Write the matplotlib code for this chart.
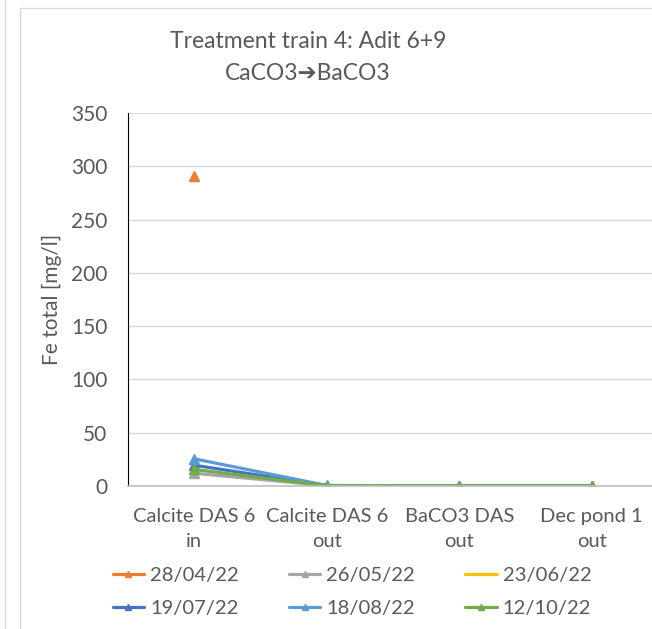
import numpy as np
import matplotlib.pyplot as plt
from matplotlib.lines import Line2D
from matplotlib import font_manager

names = {f.name for f in font_manager.fontManager.ttflist}
main_font = 'Liberation Sans Narrow' if 'Liberation Sans Narrow' in names else 'Lato'
plt.rcParams['font.family'] = [main_font, 'DejaVu Sans']

stations = ["Calcite DAS 6\nin", "Calcite DAS 6\nout", "BaCO3 DAS\nout", "Dec pond 1\nout"]
dates = ["28/04/22", "26/05/22", "23/06/22", "19/07/22", "18/08/22", "12/10/22"]
colors = ["#ED7D31", "#A5A5A5", "#FFC000", "#4472C4", "#5B9BD5", "#70AD47"]

fe_2804 = [291, np.nan, np.nan, np.nan]
fe_2605 = [12, 0.3, 0.2, 0.2]
fe_2306 = [np.nan, np.nan, np.nan, np.nan]
fe_1907 = [19.5, 0.4, 0.2, 0.2]
fe_1808 = [25.5, 0.5, 0.2, 0.2]
fe_1210 = [15.5, 0.3, 0.2, 0.2]
series = [fe_2804, fe_2605, fe_2306, fe_1907, fe_1808, fe_1210]

text_col = "#595959"

fig = plt.figure(figsize=(6.52, 6.29), dpi=100)

# panel frames
fig.add_artist(plt.Rectangle((20 / 652, -0.05), 1.0, 1 - 8 / 629 + 0.05,
                             transform=fig.transFigure, fill=False,
                             edgecolor="#d9d9d9", lw=1))
fig.add_artist(Line2D([5 / 652, 5 / 652], [0, 1], transform=fig.transFigure,
                      color="#d9d9d9", lw=1))

ax = fig.add_axes([128 / 652, 1 - 486 / 629, 530 / 652, 373 / 629])
x = np.arange(len(stations))

for vals, col, name in zip(series, colors, dates):
    mk = None if name == "23/06/22" else "^"
    ax.plot(x, vals, color=col, lw=2.3, marker=mk, markersize=7, label=name,
            solid_capstyle="round")

ax.set_xlim(-0.5, len(stations) - 0.5)
ax.set_ylim(0, 350)
ax.set_yticks(np.arange(0, 351, 50))
ax.set_xticks(x)
ax.set_xticklabels(stations, fontsize=14.5, color=text_col, linespacing=1.55)
ax.tick_params(axis='y', labelsize=15, labelcolor=text_col, length=0, pad=15)
ax.tick_params(axis='x', length=0, pad=16)
ax.grid(axis='y', color="#d9d9d9", lw=1)
ax.set_axisbelow(True)
for side in ("top", "right"):
    ax.spines[side].set_visible(False)
ax.spines["left"].set_color("#000000")
ax.spines["bottom"].set_color("#bfbfbf")
ax.spines["bottom"].set_linewidth(1.2)

ax.set_ylabel("Fe total [mg/l]", fontsize=15, color=text_col, labelpad=6)

fig.text(308 / 652, 1 - 42 / 629, "Treatment train 4: Adit 6+9", ha="center",
         va="center", fontsize=16.5, color=text_col)
fig.text(308 / 652, 1 - 73 / 629, "CaCO3\u2794BaCO3", ha="center",
         va="center", fontsize=16.5, color=text_col)

# row-major legend order
h, l = ax.get_legend_handles_labels()
order = [0, 3, 1, 4, 2, 5]
fig.legend([h[i] for i in order], [l[i] for i in order], loc="center",
           bbox_to_anchor=(352 / 652, 1 - 592 / 629), ncol=3,
           frameon=False, fontsize=14.5, labelcolor=text_col, handlelength=1.55,
           handletextpad=0.3, columnspacing=2.5, markerscale=0.7,
           labelspacing=0.8)

fig.savefig("out.png", dpi=100)
